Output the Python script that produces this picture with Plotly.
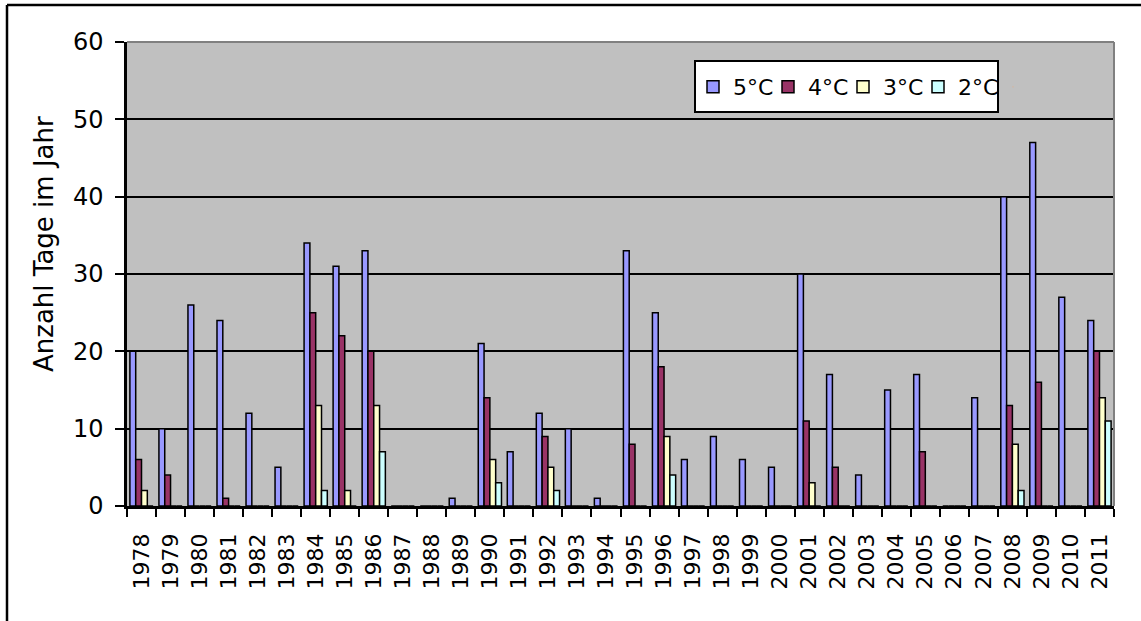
import plotly.graph_objects as go

years = [str(y) for y in range(1978, 2012)]
t5 = [20, 10, 26, 24, 12, 5, 34, 31, 33, 0, 0, 1, 21, 7, 12, 10, 1, 33, 25, 6, 9, 6, 5,
      30, 17, 4, 15, 17, 0, 14, 40, 47, 27, 24]
t4 = [6, 4, 0, 1, 0, 0, 25, 22, 20, 0, 0, 0, 14, 0, 9, 0, 0, 8, 18, 0, 0, 0, 0,
      11, 5, 0, 0, 7, 0, 0, 13, 16, 0, 20]
t3 = [2, 0, 0, 0, 0, 0, 13, 2, 13, 0, 0, 0, 6, 0, 5, 0, 0, 0, 9, 0, 0, 0, 0,
      3, 0, 0, 0, 0, 0, 0, 8, 0, 0, 14]
t2 = [0, 0, 0, 0, 0, 0, 2, 0, 7, 0, 0, 0, 3, 0, 2, 0, 0, 0, 4, 0, 0, 0, 0,
      0, 0, 0, 0, 0, 0, 0, 2, 0, 0, 11]
series_names = ["5°C", "4°C", "3°C", "2°C"]
series_colors = ["#9999FF", "#993366", "#FFFFCC", "#CCFFFF"]
y_title = "Anzahl Tage im Jahr"

FONT = "Verdana, DejaVu Sans, sans-serif"

W, H = 1141, 621
L, R, T, B = 127, 27, 42, 115
PW, PH = W - L - R, H - T - B


def px(x):
    return (x - L) / PW


def py(y):
    return 1 - (y - T) / PH


fig = go.Figure()
for name, vals, col in zip(series_names, [t5, t4, t3, t2], series_colors):
    fig.add_trace(go.Bar(
        x=years, y=vals, name=name,
        marker=dict(color=col, line=dict(color="black", width=1.5)),
    ))
# invisible spacer entry so the last legend label is not clipped
fig.add_trace(go.Scatter(
    x=[None], y=[None], mode="markers", name=" ", hoverinfo="skip",
    marker=dict(opacity=0, size=1),
))

fig.update_layout(
    width=W, height=H, autosize=False,
    margin=dict(l=L, r=R, t=T, b=B, pad=0),
    paper_bgcolor="white", plot_bgcolor="#C0C0C0",
    barmode="group", bargap=0.2, bargroupgap=0,
    font=dict(family=FONT, color="black", size=22),
    showlegend=True,
    legend=dict(
        orientation="h", x=px(693), y=py(87), xanchor="left", yanchor="middle",
        bgcolor="rgba(0,0,0,0)", borderwidth=0,
        entrywidth=30, entrywidthmode="pixels",
        font=dict(family=FONT, size=22, color="black"),
        traceorder="normal",
    ),
    xaxis=dict(
        type="category", tickson="boundaries", ticks="outside", ticklen=8,
        tickwidth=2, tickcolor="black", tickangle=-90, ticklabelstandoff=16,
        tickfont=dict(family=FONT, size=22, color="black"),
        showline=True, linecolor="black", linewidth=2.5,
        showgrid=False, zeroline=False,
    ),
    yaxis=dict(
        range=[0, 60], dtick=10, tick0=0, ticks="outside", ticklen=9,
        tickwidth=2, tickcolor="black", ticklabelstandoff=7,
        tickfont=dict(family=FONT, size=24, color="black"),
        showline=True, linecolor="black", linewidth=2.5,
        showgrid=True, gridcolor="black", gridwidth=1.5, zeroline=False,
    ),
    shapes=[
        dict(type="line", xref="paper", yref="paper", x0=0, x1=1, y0=1, y1=1,
             line=dict(color="#808080", width=2), layer="above"),
        dict(type="line", xref="paper", yref="paper", x0=1, x1=1, y0=0, y1=1,
             line=dict(color="#808080", width=2), layer="above"),
        # legend box
        dict(type="rect", xref="paper", yref="paper", x0=px(695), x1=px(998),
             y0=py(112), y1=py(61), fillcolor="white",
             line=dict(color="black", width=2), layer="above"),
        # outer chart border (left and top sides)
        dict(type="line", xref="paper", yref="paper", x0=px(7), x1=px(7),
             y0=py(640), y1=py(5), line=dict(color="black", width=2.5), layer="above"),
        dict(type="line", xref="paper", yref="paper", x0=px(7), x1=px(1160),
             y0=py(5), y1=py(5), line=dict(color="black", width=2.5), layer="above"),
    ],
    annotations=[
        dict(text=y_title, xref="paper", yref="paper", x=px(44), y=py(244),
             xanchor="center", yanchor="middle", textangle=-90, showarrow=False,
             font=dict(family=FONT, size=26, color="black")),
    ],
)

fig.write_html("out.html", config={"displayModeBar": False},
               post_script="document.body.style.margin='0px';")
